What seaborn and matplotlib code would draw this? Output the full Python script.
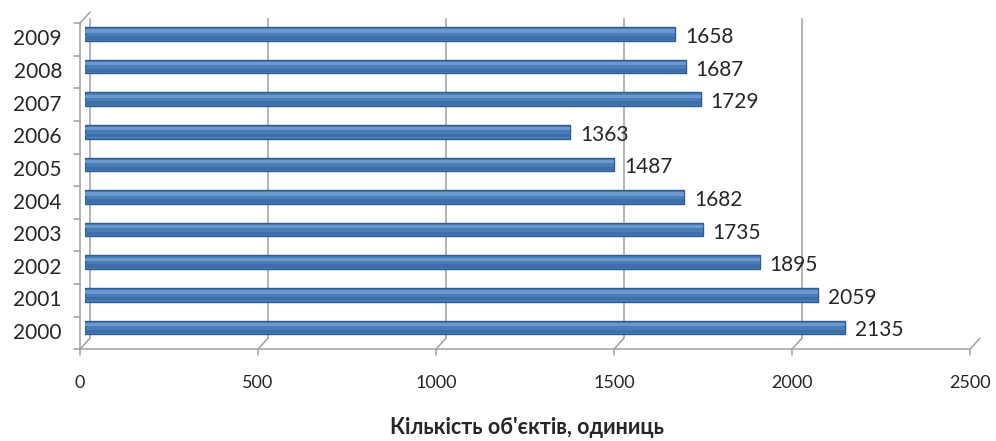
import matplotlib
matplotlib.use("Agg")
import matplotlib.pyplot as plt
import matplotlib.transforms as mtransforms
import pandas as pd
import seaborn as sns

years = ["2009", "2008", "2007", "2006", "2005", "2004", "2003", "2002", "2001", "2000"]
counts = [1658, 1687, 1729, 1363, 1487, 1682, 1735, 1895, 2059, 2135]
x_ticks = [0, 500, 1000, 1500, 2000, 2500]
x_label = "Кількість об'єктів, одиниць"

sns.set_style("white")
plt.rcParams["font.family"] = ["Lato", "DejaVu Sans"]

df = pd.DataFrame({"year": years, "count": counts})

DPI = 100
fig = plt.figure(figsize=(9.96, 4.41), dpi=DPI)
ax = fig.add_axes([0.0853, 0.2206, 0.8936, 0.7393])

GRID = "#a0a0a0"
TEXT = "#262626"
BLUE = "#4a7ebb"

sns.barplot(data=df, x="count", y="year", orient="h", color=BLUE,
            width=0.42, edgecolor="#2d5c91", linewidth=1.0, saturation=1, ax=ax)
# cylinder-ish shading: light stripe on upper part, darker on lower part
ypos = list(range(len(years)))
ax.barh([y - 0.09 for y in ypos], counts, height=0.1, color="#6d98ce", lw=0, zorder=3)
ax.barh([y + 0.12 for y in ypos], counts, height=0.1, color="#3f6ea8", lw=0, zorder=3)

ax.set_xlim(0, 2500)
ax.set_ylim(9.5, -0.5)
for s in ax.spines.values():
    s.set_visible(False)
ax.set_xticks([])
ax.set_yticks([])
ax.set_xlabel("")
ax.set_ylabel("")

# pseudo-3D: back wall is shifted up-right, floor front edge down-left
back = ax.transData + mtransforms.ScaledTranslation(5 / DPI, 5.5 / DPI, fig.dpi_scale_trans)
front = ax.transData + mtransforms.ScaledTranslation(-5 / DPI, -5.5 / DPI, fig.dpi_scale_trans)
ytop, ybot = -0.5, 9.5

for xv in x_ticks:
    ax.plot([xv, xv], [ybot, ytop], color=GRID, lw=1.1, transform=back, zorder=0)
    p_back = back.transform((xv, ybot))
    p_front = front.transform((xv, ybot))
    fig.add_artist(plt.Line2D([p_back[0], p_front[0]], [p_back[1], p_front[1]],
                              color=GRID, lw=1.1, transform=None))
    fig.add_artist(plt.Line2D([p_front[0], p_front[0]], [p_front[1], p_front[1] - 6],
                              color=GRID, lw=1.1, transform=None))
    fig.text(p_front[0] / fig.bbox.width, (p_front[1] - 34) / fig.bbox.height, str(xv),
             ha="center", va="center", fontsize=13, color=TEXT)

# floor front edge
ax.plot([0, 2500], [ybot, ybot], color=GRID, lw=1.1, transform=front, clip_on=False)
# left wall front edge + top slant
ax.plot([0, 0], [ybot, ytop], color=GRID, lw=1.1, transform=front, clip_on=False)
pf = front.transform((0, ytop))
pb = back.transform((0, ytop))
fig.add_artist(plt.Line2D([pf[0], pb[0]], [pf[1], pb[1]], color=GRID, lw=1.1, transform=None))

# category ticks on left wall
for k in range(len(years) + 1):
    p = front.transform((0, k - 0.5))
    fig.add_artist(plt.Line2D([p[0] - 6, p[0]], [p[1], p[1]], color=GRID, lw=1.1, transform=None))

# year labels on the front plane
for i, yr in enumerate(years):
    p = front.transform((0, i))
    fig.text((p[0] - 18) / fig.bbox.width, p[1] / fig.bbox.height, yr,
             ha="right", va="center", fontsize=15, color=TEXT)

# value labels, right of each bar end, slightly below centre
lab = ax.transData + mtransforms.ScaledTranslation(10 / DPI, -3 / DPI, fig.dpi_scale_trans)
for i, v in enumerate(counts):
    ax.text(v, i, str(v), transform=lab, ha="left", va="center", fontsize=15,
            color=TEXT, clip_on=False)

fig.text(0.529, 0.0295, x_label, ha="center", va="center", fontsize=15.5,
         fontweight="bold", color=TEXT)

fig.savefig("out.png", dpi=DPI, facecolor="white")
